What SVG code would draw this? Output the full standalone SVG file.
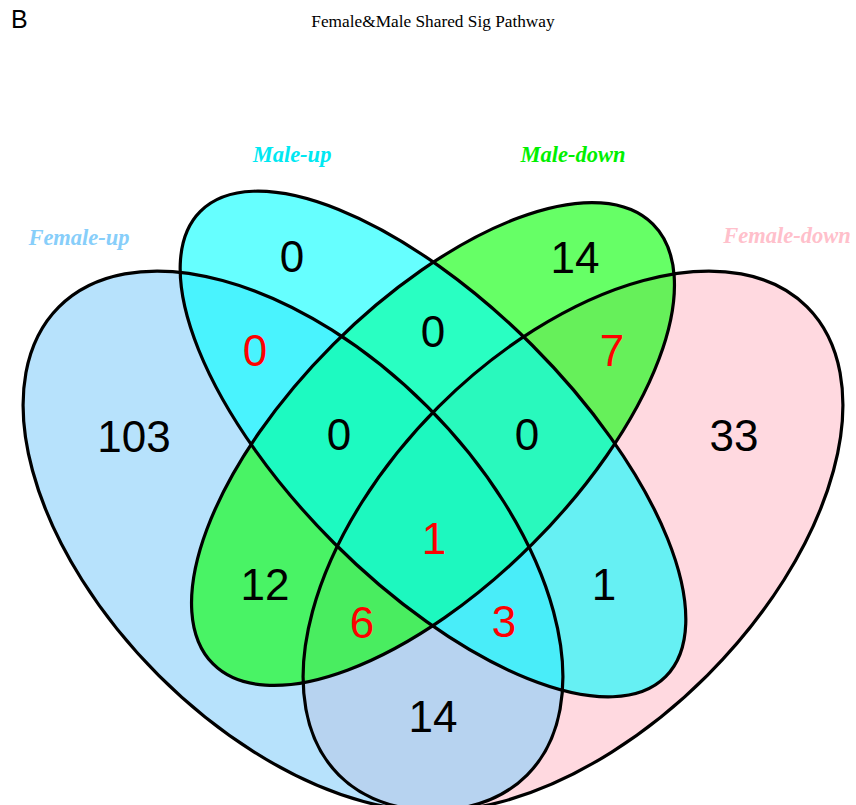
<svg xmlns="http://www.w3.org/2000/svg" width="856" height="805" viewBox="0 0 856 805">
  <style>
    .fill { stroke: none; fill-opacity: 0.6; }
    .edge { fill: none; stroke: #000000; stroke-width: 3.2; }
    .num { font-family: "Liberation Sans", Arial, sans-serif; font-size: 44px; text-anchor: middle; fill: #000000; }
    .red { fill: #FF0000; }
    .setlab { font-family: "Liberation Serif", "Times New Roman", serif; font-size: 22.5px; font-weight: bold; font-style: italic; text-anchor: middle; }
  </style>
  <rect x="0" y="0" width="856" height="805" fill="#FFFFFF"/>
  <text x="11" y="28" font-family="'Liberation Sans', Arial, sans-serif" font-size="25" fill="#000000">B</text>
  <text x="433" y="27" font-family="'Liberation Serif', 'Times New Roman', serif" font-size="17.3" text-anchor="middle" fill="#000000">Female&amp;Male Shared Sig Pathway</text>

  <g id="fills">
    <ellipse id="fill-female-down" class="fill" cx="573" cy="541" rx="331" ry="190" transform="rotate(-45 573 541)" fill="#FFC0CB"/>
    <ellipse id="fill-female-up" class="fill" cx="293" cy="541" rx="331" ry="190" transform="rotate(45 293 541)" fill="#87CEFA"/>
    <ellipse id="fill-male-down" class="fill" cx="433" cy="444" rx="311" ry="141" transform="rotate(-45 433 444)" fill="#00FF00"/>
    <ellipse id="fill-male-up" class="fill" cx="433" cy="444" rx="329" ry="140" transform="rotate(45 433 444)" fill="#00FFFF"/>
  </g>

  <g id="female-up">
    <ellipse class="edge" cx="293" cy="541" rx="331" ry="190" transform="rotate(45 293 541)"/>
    <text class="setlab" x="79" y="245" fill="#87CEFA">Female-up</text>
  </g>
  <g id="male-up">
    <ellipse class="edge" cx="433" cy="444" rx="329" ry="140" transform="rotate(45 433 444)"/>
    <text class="setlab" x="292" y="162" fill="#00E8F2">Male-up</text>
  </g>
  <g id="male-down">
    <ellipse class="edge" cx="433" cy="444" rx="311" ry="141" transform="rotate(-45 433 444)"/>
    <text class="setlab" x="573" y="162" fill="#00F000">Male-down</text>
  </g>
  <g id="female-down">
    <ellipse class="edge" cx="573" cy="541" rx="331" ry="190" transform="rotate(-45 573 541)"/>
    <text class="setlab" x="787" y="243" fill="#FFC0CB">Female-down</text>
  </g>

  <g id="counts">
    <text class="num" x="292" y="272">0</text>
    <text class="num" x="575" y="273">14</text>
    <text class="num red" x="255" y="366">0</text>
    <text class="num" x="433" y="347">0</text>
    <text class="num red" x="612" y="366">7</text>
    <text class="num" x="134" y="452">103</text>
    <text class="num" x="339" y="450">0</text>
    <text class="num" x="527" y="450">0</text>
    <text class="num" x="734" y="451">33</text>
    <text class="num red" x="434" y="554">1</text>
    <text class="num" x="265" y="600">12</text>
    <text class="num red" x="362" y="638">6</text>
    <text class="num red" x="504" y="637">3</text>
    <text class="num" x="604" y="600">1</text>
    <text class="num" x="433" y="732">14</text>
  </g>
</svg>
